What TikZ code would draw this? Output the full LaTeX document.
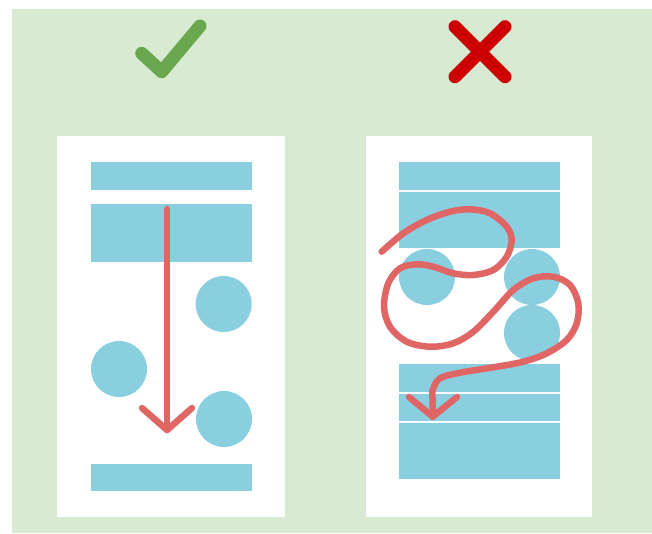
\documentclass[tikz,border=0pt]{standalone}
\usetikzlibrary{calc}
\definecolor{bggreen}{RGB}{217,234,211}
\definecolor{blk}{RGB}{138,207,224}
\definecolor{redline}{RGB}{224,102,102}
\definecolor{okgreen}{RGB}{106,168,79}
\definecolor{badred}{RGB}{204,0,0}
\tikzset{
  panel/.style={fill=white, draw=none},
  blockfill/.style={fill=blk, draw=none},
  flow/.style={draw=redline, line width=6.5pt, line cap=round, line join=round},
  signstroke/.style={line width=13pt, line cap=round, line join=round},
}
\begin{document}
\begin{tikzpicture}[x=1pt,y=-1pt]
\useasboundingbox (0,0) rectangle (652,533);
\fill[bggreen] (12,9) rectangle (652,533);
% check mark and cross
\draw[signstroke, draw=okgreen] (141.7,53.3) -- (161.7,71.7) -- (200,26);
\draw[signstroke, draw=badred] (455,26.7) -- (505,76.7);
\draw[signstroke, draw=badred] (505,26.7) -- (455,76.7);
% left panel
\path[panel] (57,136) rectangle (285,517);
\path[blockfill] (91,162) rectangle (252,190);
\path[blockfill] (91,204) rectangle (252,262);
\path[blockfill] (91,464) rectangle (252,491);
\fill[blk] (223.7,304) circle (28);
\fill[blk] (119,369) circle (28);
\fill[blk] (224,419) circle (28);
\coordinate (ls) at (167,209);
\coordinate (lt) at (167,430);
\draw[flow] (ls) -- (lt);
\draw[flow] (142,408) -- (lt) -- (192,408);
% right panel
\path[panel] (366,136) rectangle (592,517);
\path[blockfill] (399,162) rectangle (560,190);
\path[blockfill] (399,192) rectangle (560,248);
\path[blockfill] (399,364) rectangle (560,392);
\path[blockfill] (399,393.5) rectangle (560,421);
\path[blockfill] (399,423) rectangle (560,479);
\fill[blk] (427,277) circle (28);
\fill[blk] (532,277) circle (28);
\fill[blk] (532,333) circle (28);
\coordinate (rt) at (432.7,416.7);
\draw[flow] plot[smooth, tension=0.55] coordinates {
 (381.7,251.7) (403.3,233.3) (426.7,220) (450,211.7) (470,209.3) (490,213.3)
 (506.7,226.7) (511.7,240) (506.7,256.7) (493.3,270) (473.3,275) (453.3,273.3)
 (433.3,266.7) (416.7,264.3) (400,268.3) (388.3,283.3) (384,306.7) (390,326.7)
 (406.7,341.7) (430,346.7) (453.3,343.3) (473.3,331.7) (493.3,311.7) (513.3,290)
 (533.3,278.3) (553.3,276.7) (570,285) (578.3,303.3) (576.7,323.3) (566.7,340)
 (546.7,353.3) (523.3,361.7) (493.3,367.3) (460,372.7) (440,378.3) (432.7,390)
 (432.7,400)} -- (rt);
\draw[flow] (409,397) -- (rt) -- (457,397);
\end{tikzpicture}
\end{document}
